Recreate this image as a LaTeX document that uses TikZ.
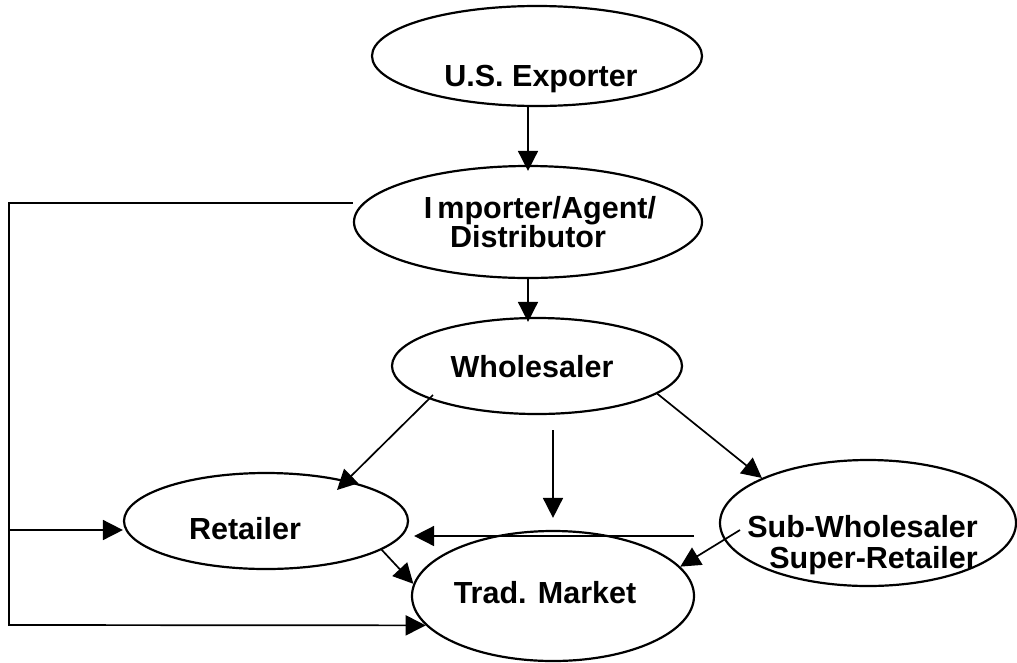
\documentclass[tikz,border=0pt]{standalone}
\usepackage{fontspec}
\setmainfont{Liberation Sans}
\usetikzlibrary{shapes.geometric,arrows.meta,calc}
\tikzset{
  oval/.style={draw, ellipse, line width=2.2pt, inner sep=0pt},
  lbl/.style={font=\fontsize{30.5}{32}\selectfont\bfseries, inner sep=0pt},
  conn/.style={line width=1.7pt},
  arr/.style={conn, -{Triangle[length=20pt,width=20pt]}}
}
\begin{document}
\begin{tikzpicture}[x=1pt,y=-1pt]
\useasboundingbox (0,0) rectangle (1017,662);
% ellipses
\node[oval, minimum width=330pt, minimum height=100pt] (exp) at (537,56) {};
\node[oval, minimum width=348pt, minimum height=112pt] (imp) at (528,222) {};
\node[oval, minimum width=290pt, minimum height=96pt] (whol) at (537,366) {};
\node[oval, minimum width=284pt, minimum height=96pt] (ret) at (266,521) {};
\node[oval, minimum width=282pt, minimum height=130pt] (trad) at (553,596) {};
\node[oval, minimum width=296pt, minimum height=126pt] (sub) at (868,523) {};
% texts
\node[lbl, anchor=base] (expT) at (541,86) {U.S. Exporter};
\node[lbl, anchor=base] (impT1) at (540,218) {I\,mporter/Agent/};
\node[lbl, anchor=base] (impT2) at (528,247) {Distributor};
\node[lbl, anchor=base] (wholT) at (532,377) {Wholesaler};
\node[lbl, anchor=base] (retT) at (245,539) {Retailer};
\node[lbl, anchor=base] (tradT) at (545,603) {Trad. Market};
\node[lbl, anchor=base east] (subT1) at (978,537) {Sub-Wholesaler};
\node[lbl, anchor=base east] (subT2) at (978,568) {Super-Retailer};
% helper coordinates
\coordinate (mtop) at (553,430);
\coordinate (hstart) at (694,536);
\coordinate (c2) at (9,625);
\coordinate (c3) at (9,530);
% connectors
\draw[arr, shorten >=-6pt] (imp.north |- exp.south) -- (imp.north);
\draw[arr, shorten >=-5pt] (imp.south) -- (imp.south |- whol.north);
\draw[arr] ([shift={(-104,29)}]whol.center) -- ([shift={(71,-31)}]ret.center);
\draw[arr, shorten >=12pt] (mtop) -- (mtop |- trad.north);
\draw[arr] (whol.347) -- (sub.157);
\draw[arr, shorten >=5pt] (hstart) -- (ret.east |- hstart);
\draw[arr] ([shift={(-128,7)}]sub.center) -- (trad.13);
\draw[arr] (ret.346) -- (trad.175);
\draw[arr] ([yshift=19pt]imp.west) -| (c2) -- (trad.193);
\draw[arr] (c3) -- (ret.west |- c3);
\end{tikzpicture}
\end{document}
